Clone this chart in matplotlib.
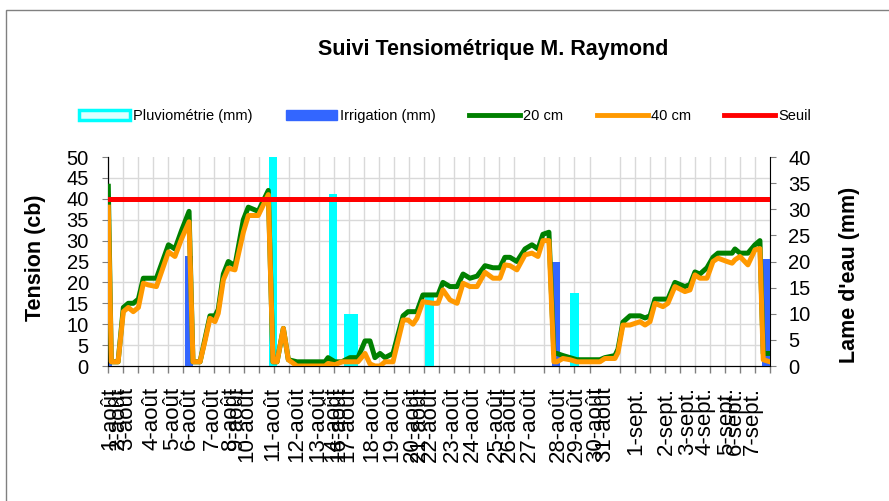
import numpy as np
import matplotlib
matplotlib.use('Agg')
import matplotlib.pyplot as plt
from matplotlib.patches import Patch, Rectangle
from matplotlib.lines import Line2D
from matplotlib.ticker import FixedLocator, MultipleLocator, NullFormatter

plt.rcParams['font.family'] = ['Liberation Sans', 'DejaVu Sans']

# reading positions along the x axis (one unit = one gridline step)
pos = [0, 0.2, 0.65, 1.0, 1.33, 1.66, 2.0, 2.33, 2.66, 3.2, 4.0, 4.43, 4.88, 5.37,
       5.63, 6.1, 6.43, 6.76, 7.09, 7.31, 7.65, 7.98, 8.42, 8.98, 9.31, 9.97, 10.64,
       10.95, 11.22, 11.64, 11.97, 12.55, 13.08, 13.74, 14.41, 14.61, 15.07, 15.52, 16.07, 16.6,
       17.07, 17.4, 17.73, 18.07, 18.4, 18.93, 19.6, 19.93, 20.26, 20.52, 20.92, 21.59, 21.92,
       22.25, 22.72, 23.19, 23.59, 24.05, 24.52, 25.05, 25.58, 26.04, 26.37, 26.71, 27.17,
       27.71, 28.17, 28.57, 28.9, 29.3, 29.63, 29.83, 30.23, 30.7, 31.16, 31.69, 32.16, 32.69,
       33.02, 33.69, 33.89, 34.22, 34.69, 35.36, 35.69, 36.02, 36.35, 36.88, 37.21, 37.68,
       38.34, 38.68, 39.01, 39.34, 39.81, 40.21, 40.54, 41.14, 41.48, 41.67, 42.0, 42.53,
       43.0, 43.33, 43.55, 44.0]

tension_20 = [43, 1, 1, 14, 15, 15, 16, 21, 21, 21, 29, 28, 32.5, 37,
              1, 1, 6.5, 12, 12, 13.5, 22, 25, 24, 35, 38, 37, 42,
              1, 1, 9, 1.5, 1, 1, 1, 1, 2, 1, 1, 2, 2,
              6, 6, 2, 3, 2, 3, 12, 13, 13, 13, 17, 17, 17,
              20, 19, 19, 22, 21, 21.5, 24, 23.5, 23.5, 26, 26, 25,
              28, 29, 28, 31.5, 32, 3, 3, 2.5, 2, 1.5, 1.5, 1.5, 1.5,
              2, 2.5, 4, 10.5, 12, 12, 11.5, 12, 16, 16, 16, 20,
              19, 19.5, 22.5, 22, 23.5, 26, 27, 27, 27, 28, 27, 27,
              29, 30, 3, 3]

tension_40 = [38, 1, 1, 13, 14, 13, 14, 19.8, 19.4, 19, 27.3, 26.2, 30.5, 34.5,
              1, 1, 6, 11.4, 10.6, 12.6, 20.6, 23.4, 23, 32, 36, 36, 41,
              1, 1, 9, 1.5, 0, 0, 0, 0, 0.6, 0.3, 1, 1, 1,
              3, 0.5, 0, 0, 1, 1, 11, 11, 10, 11.4, 15.4, 15, 15,
              18.2, 15.8, 15, 19.8, 19, 19, 22.4, 21, 21, 24.2, 24, 23,
              26.6, 27, 26.2, 30, 30, 1, 1, 1.8, 1.5, 1, 1, 1, 1,
              1.8, 1.8, 3.2, 9.8, 9.8, 10.6, 9.8, 10.6, 15, 14.2, 15, 19,
              17.8, 18.2, 21.8, 21, 21, 25, 25.8, 25, 24.6, 25.4, 26.2, 24.2,
              27.8, 28.1, 1.5, 1]

seuil = 40

pluie_pos = [10.95, 14.95, 15.95, 16.33, 21.35, 31.0]
pluie_mm = [42, 33, 10, 10, 14, 14]

irrig_pos = [0, 5.35, 29.75, 43.75]
irrig_mm = [20, 21, 20, 20.5]

date_labels = ['1-août', '2-août', '3-août', '4-août', '5-août', '6-août', '7-août',
               '8-août', '9-août', '10-août', '11-août', '12-août', '13-août', '14-août',
               '16-août', '17-août', '18-août', '19-août', '20-août', '21-août', '22-août',
               '23-août', '24-août', '25-août', '26-août', '27-août', '28-août', '29-août',
               '30-août', '31-août', '1-sept.', '2-sept.', '3-sept.', '4-sept.', '5-sept.',
               '6-sept.', '7-sept.']
date_pos = [0.1, 0.7, 1.25, 2.9, 4.3, 5.4, 6.9, 8.1, 8.55, 9.2, 10.95, 12.5, 13.95, 14.9,
            15.35, 15.9, 17.5, 18.85, 20.2, 20.7, 21.4, 22.85, 24.2, 25.8, 26.7, 28.0, 29.9,
            31.1, 32.4, 33.0, 35.1, 37.1, 38.5, 39.7, 41.1, 41.7, 42.8]

W, H = 889, 501
fig = plt.figure(figsize=(W / 100, H / 100), dpi=100)

left, right, bottom, top = 108.3 / W, 770 / W, 1 - 366 / H, 1 - 157 / H
ax = fig.add_axes([left, bottom, right - left, top - bottom])
ax2 = ax.twinx()
ax.set_zorder(2)
ax2.set_zorder(1)
ax.patch.set_visible(False)

# bars on the right axis (mm)
ax2.bar(pluie_pos, pluie_mm, width=0.55, color='#00FFFF', zorder=3)
ax2.bar(irrig_pos, irrig_mm, width=0.55, color='#3366FF', zorder=3)
ax2.set_ylim(0, 40)
ax2.set_yticks(np.arange(0, 41, 5))

# tension lines on the left axis (cb)
ax.plot(pos, tension_20, color='#008000', lw=3.6, solid_joinstyle='round', zorder=3)
ax.plot(pos, tension_40, color='#FF9900', lw=3.6, solid_joinstyle='round', zorder=4)
ax.axhline(seuil, color='#FF0000', lw=3.6, zorder=5)
ax.set_ylim(0, 50)
ax.set_xlim(0, 44)
ax.set_yticks(np.arange(0, 51, 5))

# x axis: gridline ticks every unit, date labels where they fall
ax.xaxis.set_major_locator(FixedLocator(date_pos))
ax.set_xticklabels(date_labels, rotation=90)
ax.xaxis.set_minor_locator(MultipleLocator(1))
ax.xaxis.set_minor_formatter(NullFormatter())
ax.tick_params(axis='x', which='major', length=0, pad=15, labelsize=16)
ax.tick_params(axis='x', which='minor', length=5, width=1, color='#808080', direction='out')
ax.tick_params(axis='y', length=4, color='#808080', labelsize=14.5, pad=10)
ax2.tick_params(axis='y', length=4, color='#808080', labelsize=14.5, pad=9)

# grid drawn behind the bars
ax2.xaxis.set_visible(True)
ax2.tick_params(axis='x', which='both', bottom=False, top=False,
                labelbottom=False, labeltop=False)
ax2.yaxis.set_minor_locator(FixedLocator(np.arange(0, 41, 4)))
ax2.tick_params(axis='y', which='minor', length=0)
ax2.grid(which='minor', color='#D9D9D9', lw=1)
ax2.set_axisbelow(True)

for a in (ax, ax2):
    a.spines['top'].set_visible(False)
ax.spines['left'].set_color('black')
ax.spines['bottom'].set_color('black')
ax2.spines['right'].set_color('black')
ax.spines['right'].set_visible(False)

fig.text(493 / W, 1 - 50 / H, 'Suivi Tensiométrique M. Raymond', ha='center', va='center',
         fontsize=15.5, fontweight='bold')
fig.text(35 / W, 1 - 258 / H, 'Tension (cb)', rotation=90, ha='center', va='center',
         fontsize=15.5, fontweight='bold')
fig.text(849 / W, 1 - 275 / H, "Lame d'eau (mm)", rotation=90, ha='center', va='center',
         fontsize=15.5, fontweight='bold')

handles = [
    Patch(facecolor='#DFFFFF', edgecolor='#00FFFF', linewidth=2.5),
    Patch(facecolor='#3366FF', edgecolor='#3366FF'),
    Line2D([], [], color='#008000', lw=3.5),
    Line2D([], [], color='#FF9900', lw=3.5),
    Line2D([], [], color='#FF0000', lw=3.5),
]
labels = ['Pluviométrie (mm)', 'Irrigation (mm)', '20 cm', '40 cm', 'Seuil']
fig.legend(handles, labels, loc='center', bbox_to_anchor=(445 / W, 1 - 116 / H), ncol=5,
           frameon=False, fontsize=10.5, handlelength=3.5, handleheight=0.75,
           handletextpad=0.2, columnspacing=2.3, borderaxespad=0)

fig.add_artist(Rectangle((6 / W, -0.05), 1.1, 1 - 10 / H + 0.05, transform=fig.transFigure,
                         fill=False, edgecolor='#808080', lw=1))

fig.savefig('out.png', dpi=100)
